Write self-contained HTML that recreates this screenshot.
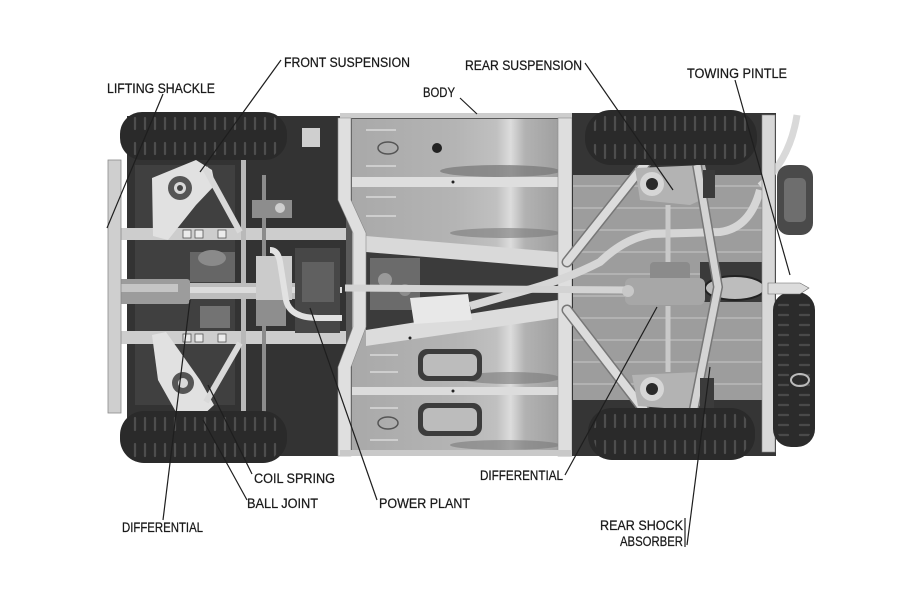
<!DOCTYPE html>
<html><head><meta charset="utf-8"><style>
html,body{margin:0;padding:0;background:#fff;}
svg{display:block}
text{font-family:"Liberation Sans",sans-serif;font-size:13.5px;fill:#1a1a1a;stroke:#1a1a1a;stroke-width:0.25px;}
</style></head><body>
<svg width="908" height="605" viewBox="0 0 908 605" xmlns="http://www.w3.org/2000/svg">
<defs>
 <pattern id="t1" x="0" y="112" width="10" height="48" patternUnits="userSpaceOnUse">
  <path d="M5 6 v11 M5 31 v11" stroke="#4e4e4e" stroke-width="2.2" stroke-linecap="round"/>
 </pattern>
 <pattern id="b1" x="0" y="411" width="10" height="52" patternUnits="userSpaceOnUse">
  <path d="M5 7 v12 M5 33 v12" stroke="#4e4e4e" stroke-width="2.2" stroke-linecap="round"/>
 </pattern>
 <pattern id="t2" x="0" y="110" width="10" height="55" patternUnits="userSpaceOnUse">
  <path d="M5 7 v13 M5 35 v13" stroke="#4e4e4e" stroke-width="2.2" stroke-linecap="round"/>
 </pattern>
 <pattern id="b2" x="0" y="408" width="10" height="52" patternUnits="userSpaceOnUse">
  <path d="M5 7 v12 M5 33 v12" stroke="#4e4e4e" stroke-width="2.2" stroke-linecap="round"/>
 </pattern>
 <pattern id="sp" x="773" y="0" width="42" height="10" patternUnits="userSpaceOnUse">
  <path d="M6 5 h9 M27 5 h9" stroke="#4a4a4a" stroke-width="2.2" stroke-linecap="round"/>
 </pattern>
 <pattern id="ribs" x="0" y="175" width="20" height="22" patternUnits="userSpaceOnUse">
  <path d="M0 11 h20" stroke="#b2b2b2" stroke-width="2"/>
 </pattern>
 <linearGradient id="pan" x1="0" x2="1" y1="0" y2="0">
  <stop offset="0" stop-color="#a9a9a9"/>
  <stop offset="0.5" stop-color="#b4b4b4"/>
  <stop offset="0.7" stop-color="#c0c0c0"/>
  <stop offset="0.77" stop-color="#dcdcdc"/>
  <stop offset="0.84" stop-color="#b2b2b2"/>
  <stop offset="1" stop-color="#a0a0a0"/>
 </linearGradient>
</defs>

<rect width="908" height="605" fill="#fff"/>

<!-- ===== FRONT SECTION ===== -->
<rect x="127" y="116" width="220" height="340" fill="#333"/>
<rect x="135" y="165" width="100" height="240" fill="#404040"/>
<rect x="302" y="128" width="18" height="19" fill="#cfcfcf"/>
<rect x="108" y="228" width="240" height="12" fill="#cdcdcd"/>
<rect x="108" y="331" width="240" height="13" fill="#cdcdcd"/>
<g fill="#ececec" stroke="#555" stroke-width="0.8">
 <rect x="183" y="230" width="8" height="8"/><rect x="195" y="230" width="8" height="8"/><rect x="218" y="230" width="8" height="8"/>
 <rect x="183" y="334" width="8" height="8"/><rect x="195" y="334" width="8" height="8"/><rect x="218" y="334" width="8" height="8"/>
</g>
<rect x="241" y="160" width="5" height="280" fill="#b9b9b9"/>
<rect x="262" y="175" width="4" height="250" fill="#8c8c8c"/>
<rect x="252" y="200" width="40" height="18" fill="#8d8d8d"/>
<circle cx="280" cy="208" r="5" fill="#cfcfcf"/>
<rect x="190" y="252" width="45" height="30" fill="#666"/>
<ellipse cx="212" cy="258" rx="14" ry="8" fill="#8a8a8a"/>
<rect x="200" y="306" width="30" height="22" fill="#737373"/>
<rect x="112" y="283" width="225" height="16" fill="#bdbdbd"/>
<rect x="115" y="279" width="75" height="25" rx="3" fill="#9c9c9c"/>
<rect x="118" y="284" width="60" height="8" fill="#c5c5c5"/>
<rect x="190" y="287" width="152" height="6" fill="#dcdcdc"/>
<rect x="295" y="248" width="45" height="85" fill="#474747"/>
<rect x="302" y="262" width="32" height="40" fill="#606060"/>
<rect x="256" y="256" width="36" height="44" fill="#cbcbcb"/>
<rect x="256" y="300" width="30" height="26" fill="#8e8e8e"/>
<path d="M270 250 Q278 250 280 262 L286 300 Q290 318 318 318 L342 318" fill="none" stroke="#e2e2e2" stroke-width="6"/>
<polygon points="152,178 196,160 212,170 215,185 196,205 168,240 153,236" fill="#e1e1e1"/>
<circle cx="180" cy="188" r="12" fill="#555"/><circle cx="180" cy="188" r="6" fill="#d8d8d8"/><circle cx="180" cy="188" r="3" fill="#444"/>
<line x1="205" y1="168" x2="240" y2="232" stroke="#d9d9d9" stroke-width="6"/>
<polygon points="152,335 166,332 200,380 214,405 200,418 176,412 158,380" fill="#e1e1e1"/>
<circle cx="183" cy="383" r="11" fill="#555"/><circle cx="183" cy="383" r="5" fill="#d8d8d8"/>
<line x1="206" y1="402" x2="240" y2="343" stroke="#d9d9d9" stroke-width="6"/>
<rect x="108" y="160" width="13" height="253" fill="#cfcfcf" stroke="#8a8a8a" stroke-width="0.8"/>

<rect x="120" y="112" width="167" height="48" rx="22" fill="#2a2a2a"/>
<rect x="126" y="112" width="155" height="48" rx="20" fill="url(#t1)"/>
<rect x="120" y="411" width="167" height="52" rx="24" fill="#2a2a2a"/>
<rect x="126" y="411" width="155" height="52" rx="22" fill="url(#b1)"/>

<!-- ===== CENTRAL BODY ===== -->
<rect x="346" y="114" width="228" height="342" fill="#5a5a5a"/>
<rect x="352" y="119" width="206" height="336" fill="url(#pan)"/>
<rect x="340" y="113" width="250" height="5" fill="#cdcdcd"/>
<ellipse cx="500" cy="171" rx="60" ry="6" fill="#7a7a7a" opacity="0.75"/>
<ellipse cx="505" cy="233" rx="55" ry="5" fill="#7a7a7a" opacity="0.6"/>
<ellipse cx="510" cy="378" rx="50" ry="6" fill="#7a7a7a" opacity="0.6"/>
<ellipse cx="505" cy="445" rx="55" ry="5" fill="#7a7a7a" opacity="0.6"/>
<g stroke="#d9d9d9" stroke-width="1.5">
 <path d="M366 130 h30 M366 166 h30 M366 197 h30 M366 216 h30 M370 355 h28 M370 372 h28 M370 408 h28 M370 440 h28"/>
</g>
<ellipse cx="388" cy="148" rx="10" ry="6" fill="none" stroke="#555" stroke-width="1.5"/>
<ellipse cx="388" cy="423" rx="10" ry="6" fill="none" stroke="#555" stroke-width="1.5"/>
<circle cx="437" cy="148" r="5" fill="#222"/>
<rect x="352" y="177" width="220" height="10" fill="#dedede"/>
<circle cx="453" cy="182" r="1.5" fill="#222"/>
<rect x="352" y="387" width="220" height="8" fill="#dcdcdc"/>
<circle cx="453" cy="391" r="1.5" fill="#222"/>
<polygon points="366,250 558,266 558,302 366,332" fill="#3b3b3b"/>
<rect x="370" y="258" width="50" height="52" fill="#6b6b6b"/>
<circle cx="385" cy="280" r="7" fill="#9a9a9a"/><circle cx="405" cy="290" r="6" fill="#8d8d8d"/>
<polygon points="366,236 558,252 558,268 366,252" fill="#d9d9d9"/>
<polygon points="366,330 558,300 558,318 366,346" fill="#dcdcdc"/>
<circle cx="410" cy="338" r="1.5" fill="#222"/>
<polygon points="410,298 468,294 472,320 414,324" fill="#e8e8e8"/>
<rect x="418" y="349" width="64" height="32" rx="9" fill="#3c3c3c"/>
<rect x="423" y="354" width="54" height="22" rx="6" fill="#bcbcbc"/>
<rect x="418" y="403" width="64" height="33" rx="9" fill="#3c3c3c"/>
<rect x="423" y="408" width="54" height="23" rx="6" fill="#bcbcbc"/>
<polygon points="338,118 351,118 351,200 366,233 366,327 351,367 351,456 338,456 338,367 353,327 353,233 338,200" fill="#dfdfdf" stroke="#8a8a8a" stroke-width="0.6"/>
<rect x="558" y="118" width="14" height="338" fill="#dedede" stroke="#8a8a8a" stroke-width="0.6"/>
<rect x="340" y="450" width="235" height="6" fill="#c9c9c9"/>

<!-- ===== REAR SECTION ===== -->
<rect x="572" y="113" width="204" height="343" fill="#353535"/>
<rect x="573" y="175" width="190" height="225" fill="#9d9d9d"/>
<rect x="573" y="175" width="190" height="225" fill="url(#ribs)"/>
<rect x="700" y="262" width="62" height="40" fill="#3a3a3a"/>
<ellipse cx="735" cy="288" rx="30" ry="12" fill="#bdbdbd" stroke="#222" stroke-width="2"/>
<path d="M470 306 L520 292 Q565 280 600 262 Q625 238 652 234 L720 232 Q750 228 760 190" fill="none" stroke="#d6d6d6" stroke-width="8"/>
<path d="M760 186 Q790 160 797 115" fill="none" stroke="#d9d9d9" stroke-width="7"/>
<line x1="345" y1="288" x2="630" y2="290" stroke="#d3d3d3" stroke-width="7"/>
<g stroke-linecap="round">
 <line x1="567" y1="262" x2="648" y2="160" stroke="#777" stroke-width="11"/>
 <line x1="567" y1="262" x2="648" y2="160" stroke="#dcdcdc" stroke-width="8"/>
 <line x1="567" y1="310" x2="648" y2="415" stroke="#777" stroke-width="11"/>
 <line x1="567" y1="310" x2="648" y2="415" stroke="#dcdcdc" stroke-width="8"/>
</g>
<path d="M635 168 L705 165 L712 195 L690 205 L640 200 Z" fill="#b3b3b3"/>
<circle cx="652" cy="184" r="12" fill="#d6d6d6"/><circle cx="652" cy="184" r="6" fill="#2a2a2a"/>
<path d="M632 375 L700 372 L708 402 L690 410 L638 406 Z" fill="#b3b3b3"/>
<circle cx="652" cy="389" r="12" fill="#d6d6d6"/><circle cx="652" cy="389" r="6" fill="#2a2a2a"/>
<line x1="668" y1="205" x2="668" y2="272" stroke="#c9c9c9" stroke-width="5"/>
<line x1="668" y1="306" x2="668" y2="372" stroke="#c9c9c9" stroke-width="5"/>
<rect x="650" y="262" width="40" height="20" rx="4" fill="#8b8b8b"/>
<rect x="625" y="278" width="80" height="27" rx="6" fill="#a7a7a7"/>
<circle cx="628" cy="291" r="6" fill="#c8c8c8"/>
<path d="M697 165 L718 287 L693 413" fill="none" stroke="#777" stroke-width="10"/>
<path d="M697 165 L718 287 L693 413" fill="none" stroke="#d4d4d4" stroke-width="7"/>
<rect x="700" y="378" width="14" height="35" fill="#3b3b3b"/>
<rect x="703" y="170" width="12" height="28" fill="#3b3b3b"/>
<rect x="762" y="115" width="13" height="337" fill="#d8d8d8" stroke="#888" stroke-width="0.6"/>

<rect x="585" y="110" width="172" height="55" rx="26" fill="#2a2a2a"/>
<rect x="591" y="110" width="160" height="55" rx="24" fill="url(#t2)"/>
<rect x="588" y="408" width="167" height="52" rx="24" fill="#2a2a2a"/>
<rect x="594" y="408" width="155" height="52" rx="22" fill="url(#b2)"/>

<rect x="777" y="165" width="36" height="70" rx="12" fill="#4a4a4a"/>
<rect x="784" y="178" width="22" height="44" rx="5" fill="#6e6e6e"/>
<rect x="773" y="292" width="42" height="155" rx="18" fill="#2b2b2b"/>
<rect x="775" y="298" width="38" height="143" rx="16" fill="url(#sp)"/>
<ellipse cx="800" cy="380" rx="9" ry="6" fill="none" stroke="#bbb" stroke-width="2"/>
<polygon points="768,283 800,283 809,288 800,294 768,294" fill="#dcdcdc" stroke="#666" stroke-width="0.6"/>

<!-- ===== LEADER LINES ===== -->
<g stroke="#1e1e1e" stroke-width="1.2" fill="none">
 <line x1="163" y1="94" x2="107" y2="228"/>
 <line x1="281" y1="60" x2="200" y2="172"/>
 <line x1="460" y1="98" x2="477" y2="114"/>
 <line x1="585" y1="63" x2="673" y2="190"/>
 <line x1="735" y1="80" x2="790" y2="275"/>
 <line x1="252" y1="474" x2="208" y2="385"/>
 <line x1="247" y1="500" x2="203" y2="420"/>
 <line x1="377" y1="500" x2="310" y2="308"/>
 <line x1="163" y1="520" x2="190" y2="300"/>
 <line x1="565" y1="475" x2="657" y2="307"/>
 <line x1="687" y1="545" x2="710" y2="367"/>
 <line x1="685" y1="518" x2="685" y2="547"/>
</g>

<!-- ===== LABELS ===== -->
<text x="107" y="93" textLength="108" lengthAdjust="spacingAndGlyphs">LIFTING SHACKLE</text>
<text x="284" y="67" textLength="126" lengthAdjust="spacingAndGlyphs">FRONT SUSPENSION</text>
<text x="423" y="97" textLength="32" lengthAdjust="spacingAndGlyphs">BODY</text>
<text x="465" y="70" textLength="117" lengthAdjust="spacingAndGlyphs">REAR SUSPENSION</text>
<text x="687" y="78" textLength="100" lengthAdjust="spacingAndGlyphs">TOWING PINTLE</text>
<text x="254" y="483" textLength="81" lengthAdjust="spacingAndGlyphs">COIL SPRING</text>
<text x="247" y="508" textLength="71" lengthAdjust="spacingAndGlyphs">BALL JOINT</text>
<text x="379" y="508" textLength="91" lengthAdjust="spacingAndGlyphs">POWER PLANT</text>
<text x="122" y="532" textLength="81" lengthAdjust="spacingAndGlyphs">DIFFERENTIAL</text>
<text x="480" y="480" textLength="83" lengthAdjust="spacingAndGlyphs">DIFFERENTIAL</text>
<text x="600" y="530" textLength="83" lengthAdjust="spacingAndGlyphs">REAR SHOCK</text>
<text x="620" y="546" textLength="63" lengthAdjust="spacingAndGlyphs">ABSORBER</text>
</svg>
</body></html>
